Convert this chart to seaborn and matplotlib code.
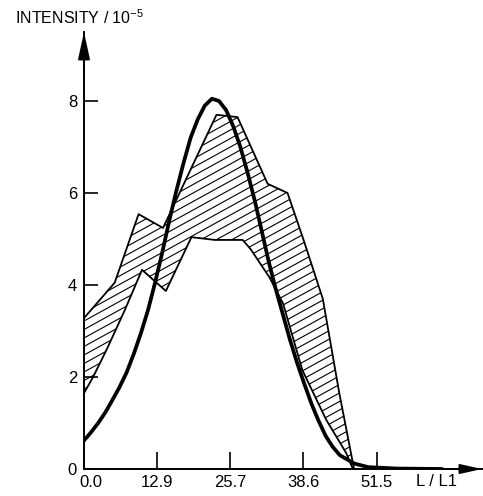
import numpy as np
import pandas as pd
import matplotlib
matplotlib.use("Agg")
import matplotlib.pyplot as plt
import seaborn as sns
from matplotlib.transforms import ScaledTranslation

# ---- data ----
curve_x = [0, 1.25, 2.5, 3.75, 5, 6.25, 7.5, 8.75, 10, 11.25, 12.5, 13.75, 15,
           16.25, 17.5, 18.75, 20, 21.25, 22.5, 23.75, 25, 26.25, 27.5, 28.75,
           30, 31.25, 32.5, 33.75, 35, 36.25, 37.5, 38.75, 40, 41.25, 42.5,
           43.75, 45, 47.5, 50, 55, 63]
curve_y = [0.62, 0.8, 1.0, 1.23, 1.5, 1.78, 2.1, 2.5, 2.95, 3.45, 4.05, 4.7, 5.4,
           6.05, 6.65, 7.2, 7.6, 7.9, 8.05, 8.0, 7.8, 7.45, 7.0, 6.45,
           5.85, 5.18, 4.5, 3.9, 3.35, 2.8, 2.3, 1.85, 1.42, 1.05, 0.72,
           0.48, 0.3, 0.12, 0.04, 0.01, 0.0]

upper_x = [0, 5.4, 9.6, 13.9, 23.3, 27.0, 32.3, 35.8, 38.7, 42.0, 44.9, 47.5]
upper_y = [3.28, 4.05, 5.54, 5.24, 7.7, 7.65, 6.2, 6.0, 4.95, 3.7, 1.65, 0.0]

lower_x = [0, 1.6, 4.0, 7.2, 10.2, 14.4, 18.9, 23.0, 27.9, 29.3, 32.6, 35.0,
           38.4, 42.6, 46.1, 47.3]
lower_y = [1.65, 2.0, 2.6, 3.46, 4.33, 3.87, 5.04, 4.98, 4.98, 4.78, 4.17, 3.6,
           2.15, 1.07, 0.35, 0.0]

xtick_vals = [0, 12.9, 25.7, 38.6, 51.5]
xtick_labels = ["0.0", "12.9", "25.7", "38.6", "51.5"]
ytick_vals = [0, 2, 4, 6, 8]
ytick_labels = ["0", "2", "4", "6", "8"]

# ---- style ----
sns.set_style("ticks")
plt.rcParams["font.family"] = ["Liberation Sans", "DejaVu Sans"]
plt.rcParams["mathtext.default"] = "regular"

W, H = 483, 496
fig = plt.figure(figsize=(W / 100, H / 100), dpi=100)
ax_l, ax_b, ax_w, ax_h = 84, 27, 398, 437
ax = fig.add_axes([ax_l / W, ax_b / H, ax_w / W, ax_h / H])
ax.set_xlim(0, 70)
ax.set_ylim(0, 9.5)

# hatched band polygon
poly_x = upper_x + lower_x[::-1]
poly_y = upper_y + lower_y[::-1]
patch = ax.fill(poly_x, poly_y, facecolor="none", edgecolor="none")[0]

slope = 0.55
for c in np.arange(-260, ax_h + 10, 8.5):
    ln, = ax.plot([0, 1], [c / ax_h, (slope * ax_w + c) / ax_h],
                  transform=ax.transAxes, color="black", lw=0.8,
                  solid_capstyle="butt")
    ln.set_clip_path(patch)

band = pd.DataFrame({"x": upper_x, "y": upper_y})
band_lo = pd.DataFrame({"x": lower_x, "y": lower_y})
curve = pd.DataFrame({"x": curve_x, "y": curve_y})

sns.lineplot(data=band, x="x", y="y", ax=ax, color="black", lw=1.3,
             estimator=None, sort=False)
sns.lineplot(data=band_lo, x="x", y="y", ax=ax, color="black", lw=1.3,
             estimator=None, sort=False)
sns.lineplot(data=curve, x="x", y="y", ax=ax, color="black", lw=2.7,
             estimator=None, sort=False)

# axes styling
for s in ["top", "right"]:
    ax.spines[s].set_visible(False)
for s in ["left", "bottom"]:
    ax.spines[s].set_linewidth(1.4)
    ax.spines[s].set_color("black")

ax.set_xticks(xtick_vals)
ax.set_xticklabels(xtick_labels)
ax.set_yticks(ytick_vals)
ax.set_yticklabels(ytick_labels)
ax.tick_params(axis="x", direction="in", length=12, width=1.2, labelsize=12,
               pad=4, colors="black")
ax.tick_params(axis="y", direction="in", length=10, width=1.2, labelsize=12,
               pad=5, colors="black")
ax.set_xlabel("")
ax.set_ylabel("")

t0 = ax.xaxis.get_major_ticks()[0].label1
t0.set_transform(t0.get_transform() + ScaledTranslation(7 / 100, 0, fig.dpi_scale_trans))

# arrow heads
ax.annotate("", xy=(0, 1), xytext=(0, 0.9), xycoords="axes fraction",
            arrowprops=dict(arrowstyle="-|>,head_length=1.65,head_width=0.36",
                            color="black", lw=1.4, shrinkA=0, shrinkB=0,
                            mutation_scale=10),
            annotation_clip=False)
ax.annotate("", xy=(1, 0), xytext=(0.9, 0), xycoords="axes fraction",
            arrowprops=dict(arrowstyle="-|>,head_length=1.3,head_width=0.29",
                            color="black", lw=1.4, shrinkA=0, shrinkB=0,
                            mutation_scale=10),
            annotation_clip=False)

fig.text(15 / W, 1 - 18 / H, "INTENSITY / 10$^{-5}$", ha="left", va="center",
         fontsize=11.5, color="black")
fig.text(437 / W, 1 - 482 / H, "L / L1", ha="center", va="center",
         fontsize=12, color="black")

fig.savefig("out.png", dpi=100)
